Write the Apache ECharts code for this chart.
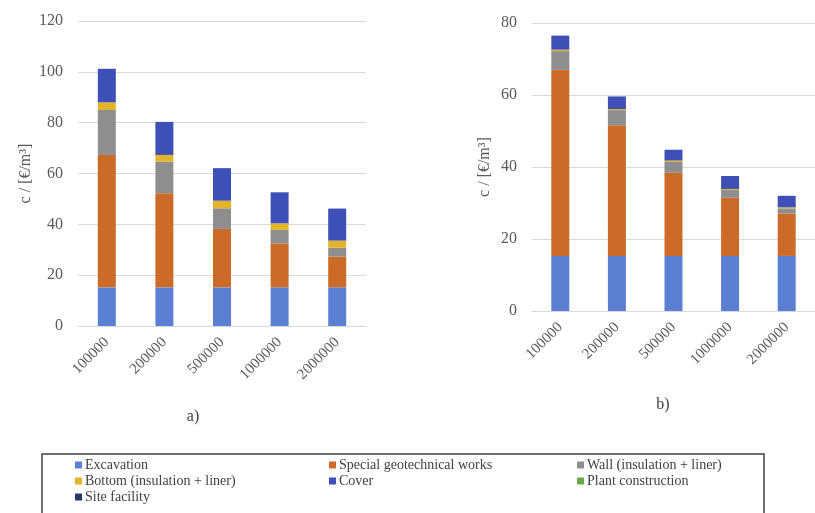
<!DOCTYPE html>
<html>
<head>
<meta charset="utf-8">
<script src="https://cdn.jsdelivr.net/npm/echarts@6/dist/echarts.min.js"></script>
<style>
html,body{margin:0;padding:0;background:#fff;}
#main{width:815px;height:513px;}
</style>
</head>
<body>
<div id="main"></div>
<script>
var categories = ['100000','200000','500000','1000000','2000000'];
var seriesNames = ['Excavation','Special geotechnical works','Wall (insulation + liner)',
'Bottom (insulation + liner)','Cover','Plant construction','Site facility'];
var colors = ['#5B7FD3','#CC6A28','#8E8E8E','#E3B429','#3E4FB8','#6AA84F','#25386B'];

// a) c / [€/m²]
var aExcavation = [15.2,15.2,15.2,15.2,15.2];
var aSpecial = [52.1,37.0,23.0,17.3,12.1];
var aWall = [17.7,12.5,8.1,5.3,3.5];
var aBottom = [3.0,2.6,3.0,2.6,2.8];
var aCover = [13.2,13.0,12.8,12.2,12.6];
var aPlant = [0,0,0,0,0];
var aSite = [0,0,0,0,0];

// b) c / [€/m³]
var bExcavation = [15.3,15.3,15.3,15.3,15.3];
var bSpecial = [51.7,36.3,23.1,16.2,11.8];
var bWall = [5.2,4.2,3.0,2.1,1.4];
var bBottom = [0.4,0.3,0.4,0.3,0.3];
var bCover = [3.9,3.5,3.0,3.6,3.2];
var bPlant = [0,0,0,0,0];
var bSite = [0,0,0,0,0];

var aTicks = {min:0,max:120,interval:20};
var bTicks = {min:0,max:80,interval:20};

var serif = 'Liberation Serif';
var aData = [aExcavation,aSpecial,aWall,aBottom,aCover,aPlant,aSite];
var bData = [bExcavation,bSpecial,bWall,bBottom,bCover,bPlant,bSite];

var series = [];
for(var i=0;i<seriesNames.length;i++){
	series.push({name:seriesNames[i],type:'bar',stack:'a',xAxisIndex:0,yAxisIndex:0,
		barWidth:18,itemStyle:{color:colors[i]},data:aData[i]});
}
for(var i=0;i<seriesNames.length;i++){
	series.push({name:seriesNames[i],type:'bar',stack:'b',xAxisIndex:1,yAxisIndex:1,
		barWidth:18,itemStyle:{color:colors[i]},data:bData[i]});
}

function xAxis(idx){
	return {type:'category',gridIndex:idx,data:categories,
		axisLine:{show:true,lineStyle:{color:'#D9D9D9'}},axisTick:{show:false},
		axisLabel:{rotate:45,fontFamily:serif,fontSize:15,color:'#595959',margin:14}};
}
function yAxis(idx,t,gap){
	return {type:'value',gridIndex:idx,min:t.min,max:t.max,interval:t.interval,
		name:'c / [€/m³]',nameLocation:'middle',nameGap:gap,nameRotate:90,
		nameTextStyle:{fontFamily:serif,fontSize:16,color:'#595959'},
		axisLine:{show:false},axisTick:{show:false},
		axisLabel:{fontFamily:serif,fontSize:16,color:'#595959',margin:15},
		splitLine:{lineStyle:{color:'#D9D9D9',width:1}}};
}

// legend laid out in three columns inside the framed box
function legendCol(left,names){
	return {orient:'vertical',left:left,top:457,padding:0,itemWidth:7,itemHeight:7,itemGap:0,
		icon:'rect',data:names,selectedMode:false,
		textStyle:{fontFamily:serif,fontSize:14,color:'#404040',lineHeight:16,padding:[0,0,0,-2]}};
}

var myChart = echarts.init(document.getElementById('main'));
var option = {
	animation:false,
	grid:[
		{left:78,top:21,width:288,height:305},
		{left:532,top:23,width:296,height:288}
	],
	xAxis:[xAxis(0),xAxis(1)],
	yAxis:[yAxis(0,aTicks,44),yAxis(1,bTicks,39)],
	legend:[
		legendCol(75,[seriesNames[0],seriesNames[3],seriesNames[6]]),
		legendCol(329,[seriesNames[1],seriesNames[4]]),
		legendCol(577,[seriesNames[2],seriesNames[5]])
	],
	graphic:[
		{type:'rect',shape:{x:42,y:454,width:722,height:80},
			style:{fill:'none',stroke:'#404040',lineWidth:1.5}},
		{type:'text',x:193,y:417,style:{text:'a)',font:'16px "Liberation Serif"',fill:'#404040',
			textAlign:'center',textVerticalAlign:'middle'}},
		{type:'text',x:663,y:405,style:{text:'b)',font:'16px "Liberation Serif"',fill:'#404040',
			textAlign:'center',textVerticalAlign:'middle'}}
	],
	series:series
};
myChart.setOption(option);
</script>
</body>
</html>
